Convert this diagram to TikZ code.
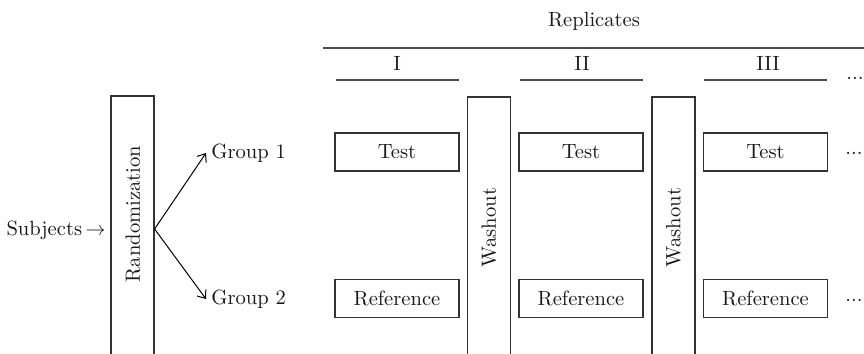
\documentclass[tikz,border=0pt]{standalone}
\usetikzlibrary{arrows.meta}
\begin{document}
\begin{tikzpicture}[x=0.5pt,y=-0.5pt,
  every node/.style={font=\fontsize{10.3}{12}\selectfont, text=black!90},
  vbox/.style={draw=black!80, line width=0.6pt, minimum width=21.5pt, inner sep=0pt},
  cellbox/.style={draw=black!80, line width=0.6pt, minimum width=62pt, minimum height=19pt, inner sep=0pt},
  rulel/.style={draw=black!70, line width=1pt},
  fork/.style={draw=black, line width=0.5pt, -{Straight Barb[length=3.5pt,width=5.5pt]}},
  dotsn/.style={inner sep=0pt}]
\clip (0,0) rectangle (864,354);
% header
\node (rep) at (594,21) {Replicates};
\draw[rulel] (323,48) -- (866,48);
\node (r1) at (397,63) {I};
\node (r2) at (582,63) {II};
\node (r3) at (768,63) {III};
\draw[rulel] (336,80) -- (459,80);
\draw[rulel] (520,80) -- (643,80);
\draw[rulel] (704,80) -- (827,80);
\node[dotsn] (d0) at (855,78) {...};
% left part
\node[anchor=base east, inner sep=0pt] (subj) at (106,235) {Subjects\,$\rightarrow$};
\node[vbox, minimum height=133pt] (rand) at (132.5,229) {};
\node[rotate=90] (randtxt) at (133,214) {Randomization};
\node[anchor=west, inner sep=2.5pt] (g1) at (206,153) {Group 1};
\node[anchor=west, inner sep=2.5pt] (g2) at (206,299) {Group 2};
\draw[fork] (rand.east) -- (g1.west);
\draw[fork] (rand.east) -- (g2.west);
% washouts
\node[vbox, minimum height=130.5pt] (wash1) at (489,227.5) {};
\node[rotate=90] (wash1txt) at (wash1.center) {Washout};
\node[vbox, minimum height=130.5pt] (wash2) at (673.5,227.5) {};
\node[rotate=90] (wash2txt) at (wash2.center) {Washout};
% cells
\node[cellbox] (t1) at (397,152) {Test};
\node[cellbox] (t2) at (581,152) {Test};
\node[cellbox] (t3) at (765.5,152) {Test};
\node[cellbox] (f1) at (397,298.5) {Reference};
\node[cellbox] (f2) at (581,298.5) {Reference};
\node[cellbox] (f3) at (765.5,298.5) {Reference};
\node[dotsn] (d1) at (854,153) {...};
\node[dotsn] (d2) at (854,300) {...};
\end{tikzpicture}
\end{document}
